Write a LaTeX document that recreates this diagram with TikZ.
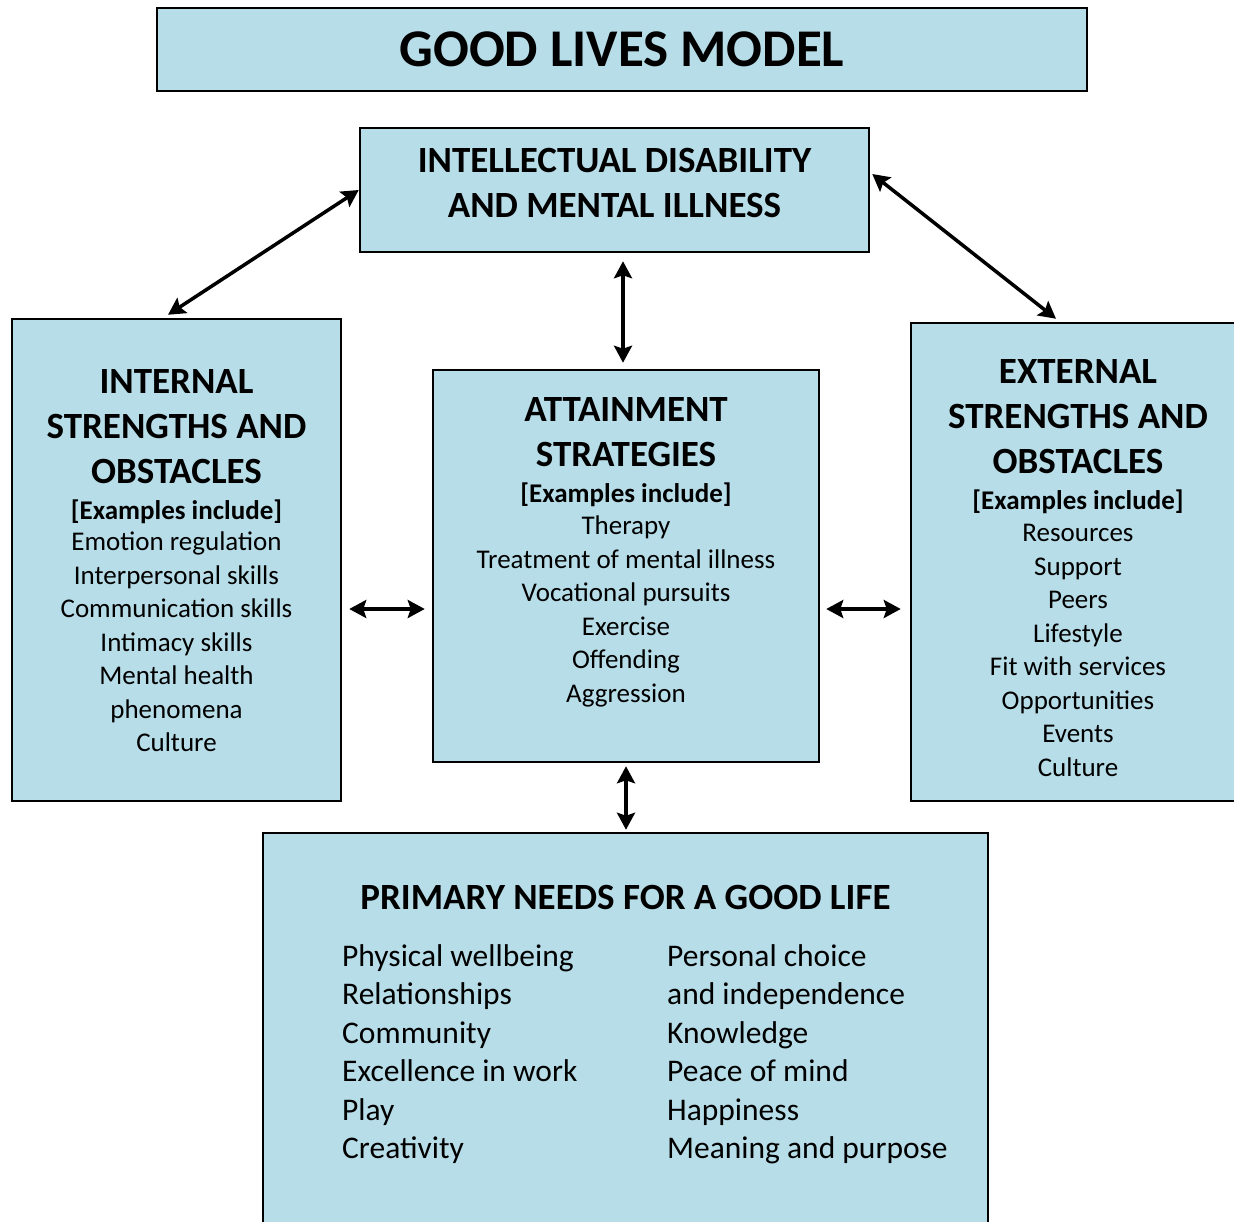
\documentclass[tikz,border=0pt]{standalone}
\usepackage{fontspec}
\setmainfont{Carlito}
\usetikzlibrary{arrows.meta}
\definecolor{boxblue}{HTML}{B7DDE8}
\newcommand\hdfont{\fontsize{37}{45}\selectfont\bfseries}
\newcommand\exfont{\fontsize{27}{36}\selectfont\bfseries}
\newcommand\bdfont{\fontsize{27}{33.5}\selectfont\mdseries}
\newcommand\lsfont{\fontsize{31.5}{38.5}\selectfont}
\setlength\parindent{0pt}
\begin{document}
\begin{tikzpicture}[x=1pt,y=-1pt,
  box/.style={draw=black, line width=2.5pt, fill=boxblue, rectangle, inner sep=0pt},
  arr/.style={line width=3.5pt, {Stealth[length=17pt,width=18pt,inset=3pt]}-{Stealth[length=17pt,width=18pt,inset=3pt]}},
  txt/.style={inner sep=0pt, text width=#1, align=flush center, anchor=north},
  txt/.default=320pt,
  col/.style={inner sep=0pt, text width=320pt, align=flush left, anchor=north west, font=\lsfont},
]
\clip (0,0) rectangle (1234,1221);
\fill[white] (0,0) rectangle (1234,1221);

% boxes
\node[box, minimum width=930pt, minimum height=83pt, font=\fontsize{53}{64}\selectfont\bfseries] (title) at (622,49.5) {GOOD LIVES MODEL};
\node[box, minimum width=509pt, minimum height=124pt] (id) at (614.5,190) {};
\node[box, minimum width=329pt, minimum height=482pt] (int) at (176.5,560) {};
\node[box, minimum width=386pt, minimum height=392pt] (att) at (626,566) {};
\node[box, minimum width=334pt, minimum height=478pt] (ext) at (1078,562) {};
\node[box, minimum width=725pt, minimum height=402pt] (prim) at (625.5,1034) {};

% texts
\node[txt=480pt] (idT) at (614.5,148.5) {\hdfont INTELLECTUAL DISABILITY\\AND MENTAL ILLNESS\par};

\node[txt] (intT) at (176.5,369) {\hdfont INTERNAL\\STRENGTHS AND\\OBSTACLES\par
  \exfont [Examples include]\par\vspace*{-2pt}
  \bdfont Emotion regulation\\Interpersonal skills\\Communication skills\\Intimacy skills\\Mental health\\phenomena\\Culture\par};

\node[txt=370pt] (attT) at (626,397.5) {\hdfont ATTAINMENT\\STRATEGIES\par
  \exfont [Examples include]\par\vspace*{-1.5pt}
  \bdfont Therapy\\Treatment of mental illness\\Vocational pursuits\\Exercise\\Offending\\Aggression\par};

\node[txt] (extT) at (1078,359.5) {\hdfont EXTERNAL\\STRENGTHS AND\\OBSTACLES\par
  \exfont [Examples include]\par\vspace*{-1.5pt}
  \bdfont Resources\\Support\\Peers\\Lifestyle\\Fit with services\\Opportunities\\Events\\Culture\par};

\node[txt=700pt] (primT) at (625.5,885.5) {\hdfont PRIMARY NEEDS FOR A GOOD LIFE\par};
\node[col] (primL) at (342,944) {Physical wellbeing\\Relationships\\Community\\Excellence in work\\Play\\Creativity\par};
\node[col] (primR) at (667,944) {Personal choice\\and independence\\Knowledge\\Peace of mind\\Happiness\\Meaning and purpose\par};

% connectors
\draw[arr] (id.west) -- ([xshift=-8.5pt,yshift=3pt]int.north);
\draw[arr] ([xshift=2pt,yshift=16pt]id.east) -- ([xshift=-22pt,yshift=3pt]ext.north);
\draw[arr] ([xshift=8.5pt,yshift=-8pt]id.south) -- ([xshift=-3pt,yshift=6pt]att.north);
\draw[arr] ([xshift=7pt,yshift=-49pt]int.east) -- ([xshift=-7pt,yshift=-43pt]att.west);
\draw[arr] ([xshift=6pt,yshift=-43pt]att.east) -- ([xshift=-9pt,yshift=-47pt]ext.west);
\draw[arr] ([yshift=-3pt]att.south) -- ([xshift=0.5pt,yshift=2pt]prim.north);
\end{tikzpicture}
\end{document}
